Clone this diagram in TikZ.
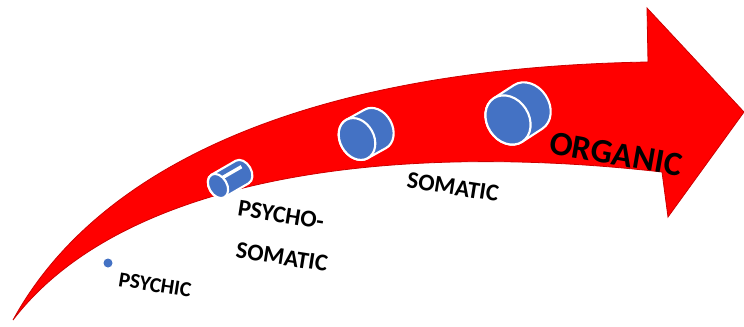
\documentclass[tikz,border=0pt]{standalone}
\usepackage{fontspec}
\newfontfamily\carlito{Carlito}
\definecolor{arrowred}{RGB}{255,0,0}
\definecolor{cylblue}{RGB}{68,114,196}
\tikzset{
	cylface/.style={fill=cylblue,draw=white,line width=1.6pt},
	stage/.style={inner sep=0pt,rotate=-9,font=\carlito\bfseries\fontsize{18}{20}\selectfont}
}
% tilted cylinder: x, y, angle, length, x radius, y radius
\newcommand\tubeat[6]{%
	\begin{scope}[shift={(#1,#2)},rotate=#3]
		\draw[cylface] (0,-#6) -- (#4,-#6) arc[start angle=-90,end angle=90,x radius=#5,y radius=#6] -- (0,#6) arc[start angle=90,end angle=270,x radius=#5,y radius=#6] -- cycle;
		\draw[cylface] (0,0) ellipse[x radius=#5,y radius=#6];
	\end{scope}}
\begin{document}
\begin{tikzpicture}[x=0.75pt,y=-0.75pt,font=\carlito\bfseries]
		\useasboundingbox (0,0) rectangle (744,326);
		\fill[arrowred,draw=red!80!black,line width=0.6pt] (13,320) .. controls (95,170) and (300,68) .. (648,62) -- (647,8) -- (744,112) -- (668,217) -- (662,172) .. controls (380,140) and (120,180) .. cycle;
		\fill[cylblue] (108,263) circle[radius=4.5];
		\begin{scope}[shift={(218,186)},rotate=30]
			\draw[cylface] (0,-13) -- (28,-13) arc[start angle=-90,end angle=90,x radius=9,y radius=13] -- (0,13) arc[start angle=90,end angle=270,x radius=9,y radius=13] -- cycle;
			\draw[white,line width=2.6pt] (0,-5) -- (30,-5);
			\draw[cylface] (0,0) ellipse[x radius=9,y radius=13];
		\end{scope}
		\tubeat{357}{139}{29}{21}{17}{22}
		\tubeat{508}{120}{33}{24}{21}{26}
		\node[stage,font=\carlito\bfseries\fontsize{16}{18}\selectfont] (psychic) at (155,285) {PSYCHIC};
		\node[stage] (psycho) at (281,215) {PSYCHO-};
		\node[stage] (psychosomatic) at (282,257) {SOMATIC};
		\node[stage] (somatic) at (453,187) {SOMATIC};
		\node[inner sep=0pt,rotate=-10,font=\carlito\bfseries\fontsize{25.5}{28}\selectfont] (organic) at (616,154) {ORGANIC};
\end{tikzpicture}
\end{document}
